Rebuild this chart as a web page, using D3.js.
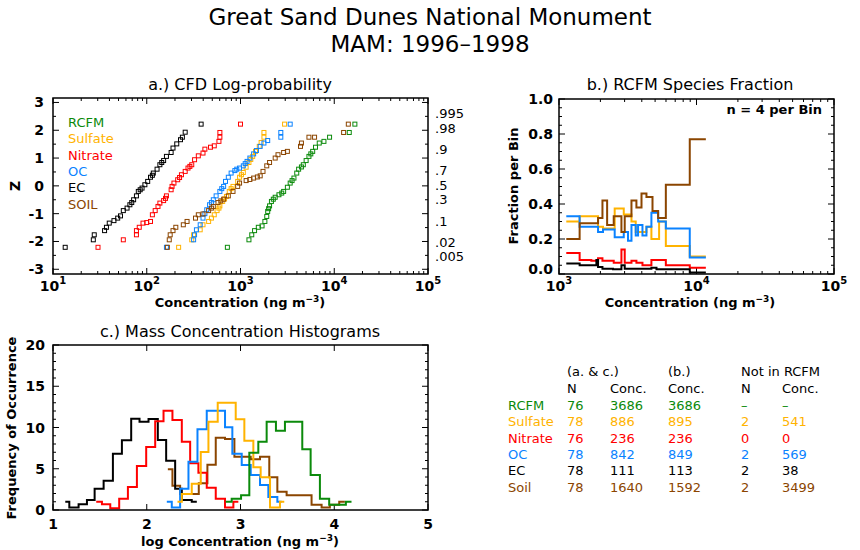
<!DOCTYPE html>
<html>
<head>
<meta charset="utf-8">
<script src="https://cdn.jsdelivr.net/npm/d3@7"></script>
<style>
  body { margin: 0; background: #fff; }
  text { font-family: "DejaVu Sans", sans-serif; }
</style>
</head>
<body>
<svg id="chart" width="860" height="550"></svg>
<script>
// species and colours
const species = ["RCFM", "Sulfate", "Nitrate", "OC", "EC", "SOIL"];
const colors = ["#0b8a0b", "#ffb300", "#ff0000", "#0a82ff", "#000000", "#8b4500"];

// a.) CFD: [log10 conc, Z]
const cfdRCFM = [[2.86,-2.21],[3.09,-1.94],[3.12,-1.76],[3.15,-1.61],[3.19,-1.49],[3.23,-1.44],[3.26,-1.28],[3.28,-1.1],[3.29,-0.92],[3.31,-0.72],[3.33,-0.56],[3.37,-0.41],[3.41,-0.32],[3.46,-0.2],[3.5,-0.05],[3.53,0.1],[3.57,0.28],[3.6,0.46],[3.62,0.6],[3.67,0.76],[3.7,0.91],[3.73,1.06],[3.77,1.24],[3.8,1.39],[3.84,1.54],[3.89,1.6],[3.95,1.75],[4.16,1.92],[4.22,2.22],[3.3,-0.82],[3.35,-0.48],[3.44,-0.26],[3.55,0.19],[3.65,0.68],[3.75,1.15]];
const cfdSulfate = [[2.34,-2.21],[2.48,-1.94],[2.5,-1.76],[2.57,-1.58],[2.6,-1.4],[2.66,-1.28],[2.69,-1.16],[2.72,-1.04],[2.75,-0.89],[2.78,-0.72],[2.81,-0.56],[2.85,-0.38],[2.88,-0.2],[2.92,-0.02],[2.97,0.16],[2.99,0.31],[3.03,0.48],[3.06,0.67],[3.09,0.84],[3.13,1.06],[3.16,1.24],[3.2,1.42],[3.22,1.56],[3.25,1.75],[3.25,1.92],[3.47,2.22],[2.77,-0.8],[2.83,-0.47],[2.9,-0.1],[3.01,0.4],[3.11,0.95]];
const cfdNitrate = [[1.48,-2.21],[1.75,-1.94],[1.89,-1.76],[1.89,-1.61],[1.92,-1.49],[1.96,-1.34],[2.0,-1.32],[2.04,-1.28],[2.06,-1.04],[2.09,-0.89],[2.12,-0.74],[2.14,-0.62],[2.18,-0.53],[2.21,-0.36],[2.26,-0.14],[2.27,-0.02],[2.29,0.1],[2.33,0.22],[2.37,0.4],[2.41,0.52],[2.44,0.64],[2.48,0.76],[2.51,0.94],[2.55,1.08],[2.6,1.18],[2.62,1.32],[2.68,1.39],[2.72,1.44],[2.77,1.6],[2.78,1.75],[2.78,1.92],[3.0,2.22],[2.2,-0.45],[2.35,0.3],[2.46,0.7]];
const cfdOC = [[2.21,-2.21],[2.5,-1.94],[2.51,-1.76],[2.53,-1.58],[2.57,-1.4],[2.6,-1.16],[2.64,-0.86],[2.67,-0.68],[2.71,-0.5],[2.74,-0.36],[2.78,-0.2],[2.82,-0.02],[2.84,0.16],[2.87,0.31],[2.9,0.46],[2.94,0.55],[2.99,0.64],[3.03,0.72],[3.07,0.88],[3.1,1.0],[3.14,1.15],[3.17,1.27],[3.21,1.42],[3.25,1.54],[3.29,1.63],[3.43,1.75],[3.43,1.92],[3.53,2.22],[2.62,-1.0],[2.69,-0.6],[2.8,-0.1],[2.96,0.6],[3.05,0.8]];
const cfdEC = [[1.13,-2.21],[1.43,-1.94],[1.44,-1.76],[1.55,-1.61],[1.57,-1.49],[1.6,-1.34],[1.65,-1.25],[1.69,-1.16],[1.72,-1.08],[1.75,-0.89],[1.79,-0.8],[1.82,-0.68],[1.86,-0.5],[1.89,-0.36],[1.91,-0.2],[1.95,-0.08],[1.98,0.04],[2.01,0.16],[2.04,0.31],[2.07,0.46],[2.11,0.6],[2.14,0.76],[2.18,0.91],[2.21,1.06],[2.26,1.2],[2.28,1.36],[2.32,1.51],[2.36,1.66],[2.38,1.75],[2.41,1.93],[2.58,2.22],[1.84,-0.6],[1.93,-0.14],[2.06,0.38],[2.16,0.84]];
const cfdSoil = [[2.22,-2.21],[2.24,-1.94],[2.25,-1.76],[2.28,-1.61],[2.31,-1.49],[2.39,-1.4],[2.43,-1.28],[2.52,-1.16],[2.55,-1.04],[2.6,-1.01],[2.66,-0.89],[2.71,-0.74],[2.76,-0.6],[2.82,-0.48],[2.87,-0.36],[2.92,-0.2],[2.97,-0.02],[2.99,0.1],[3.06,0.19],[3.14,0.28],[3.21,0.36],[3.24,0.52],[3.28,0.72],[3.31,0.84],[3.37,1.0],[3.4,1.12],[3.46,1.2],[3.5,1.24],[3.64,1.42],[3.65,1.54],[3.73,1.75],[3.79,1.75],[4.1,1.92],[4.15,2.22],[3.1,0.23],[3.18,0.32],[2.69,-0.8],[2.79,-0.54]];
const cfdAll = [cfdRCFM, cfdSulfate, cfdNitrate, cfdOC, cfdEC, cfdSoil];
const probTicks = [".995", ".98", ".9", ".7", ".5", ".3", ".1", ".02", ".005"];
const probZ = [2.576, 2.054, 1.282, 0.524, 0, -0.524, -1.282, -2.054, -2.576];

// b.) species fraction step lines: bin edges (log10 conc) and fractions
const fracEdges = {
  Sulfate: [3.053,3.15,3.284,3.32,3.405,3.471,3.527,3.558,3.636,3.672,3.728,3.777,3.951,4.068],
  OC: [3.053,3.15,3.284,3.32,3.405,3.471,3.502,3.527,3.558,3.575,3.607,3.636,3.672,3.721,3.777,3.951,4.068],
  Nitrate: [3.053,3.15,3.235,3.284,3.316,3.398,3.454,3.478,3.527,3.563,3.607,3.672,3.777,3.951,4.068],
  EC: [3.053,3.15,3.272,3.284,3.316,3.393,3.454,3.478,3.672,3.709,3.951,4.068],
  SOIL: [3.053,3.15,3.284,3.316,3.35,3.398,3.454,3.478,3.527,3.563,3.6,3.636,3.68,3.721,3.777,3.951,4.068]
};
const fracValues = {
  Sulfate: [0.30,0.33,0.27,0.26,0.375,0.34,0.30,0.24,0.27,0.20,0.30,0.16,0.10],
  OC: [0.33,0.27,0.24,0.255,0.21,0.24,0.19,0.28,0.22,0.28,0.22,0.27,0.35,0.30,0.26,0.095],
  Nitrate: [0.12,0.08,0.076,0.09,0.076,0.065,0.14,0.065,0.076,0.065,0.05,0.08,0.05,0.036],
  EC: [0.06,0.05,0.08,0.04,0.03,0.027,0.05,0.03,0.036,0.027,0.008],
  SOIL: [0.20,0.29,0.32,0.42,0.28,0.33,0.24,0.33,0.42,0.38,0.46,0.44,0.36,0.32,0.51,0.77]
};
const fracOrder = ["Sulfate", "OC", "Nitrate", "EC", "SOIL"];

// c.) histograms: bin edges (log10 conc) and frequencies
const histEdges = [
  [2.842,2.906,3.006,3.094,3.19,3.279,3.378,3.474,3.659,3.748,3.847,3.946,4.124,4.184],
  [2.328,2.374,2.48,2.576,2.658,2.757,2.842,2.949,3.041,3.137,3.215,3.315,3.421,3.467],
  [1.461,1.522,1.611,1.706,1.799,1.895,1.994,2.09,2.179,2.274,2.374,2.463,2.551,2.64,2.736,2.835,2.924,2.977],
  [2.214,2.267,2.356,2.445,2.541,2.64,2.835,2.913,3.013,3.109,3.208,3.297,3.393,3.439],
  [1.131,1.174,1.273,1.362,1.444,1.54,1.639,1.735,1.834,1.923,2.019,2.118,2.207,2.303,2.374,2.48,2.534],
  [2.225,2.274,2.356,2.452,2.555,2.647,2.736,2.835,2.935,3.013,3.109,3.208,3.307,3.393,3.492,3.758,3.865,3.953,4.053,4.113]
];
const histValues = [
  [1,1.37,1.78,6.95,8.28,10.7,9.62,10.7,7.35,4.24,1.37,0.65,1],
  [1,1.94,3.19,7.03,10.7,13,13,11,8.4,5.17,3.96,0.29,1],
  [1,0.69,0.2,1.37,2.79,5.33,7.64,10.75,12.04,10.91,8.28,5.66,4.53,2.71,1.37,0.29,1],
  [1,0.29,2.59,5.86,9.78,12.04,10.02,6.83,5.45,4.24,3.03,1.58,1],
  [1,0.29,0.69,1.21,2.59,3.56,6.83,8.44,11.07,10.71,11.03,8.48,5.98,2.59,1.21,1],
  [4.93,2.95,1.94,1.94,3.23,5.49,8.76,8.6,6.46,6.46,6.14,6.46,3.96,2.22,1.78,0.65,0.29,0.65,1]
];

// table
const tableNames = ["RCFM", "Sulfate", "Nitrate", "OC", "EC", "Soil"];
const tableN = ["76", "78", "76", "78", "78", "78"];
const tableConcAC = ["3686", "886", "236", "842", "111", "1640"];
const tableConcB = ["3686", "895", "236", "849", "113", "1592"];
const tableNotN = ["\u2013", "2", "0", "2", "2", "2"];
const tableNotConc = ["\u2013", "541", "0", "569", "38", "3499"];

const svg = d3.select("#chart");
const colorOf = d3.scaleOrdinal().domain(species).range(colors);

svg.append("text").attr("x", 430).attr("y", 25).attr("text-anchor", "middle")
  .attr("font-size", 23).text("Great Sand Dunes National Monument");
svg.append("text").attr("x", 430).attr("y", 52).attr("text-anchor", "middle")
  .attr("font-size", 23).text("MAM: 1996\u20131998");

function frame(x0, y0, x1, y1) {
  svg.append("rect").attr("x", x0).attr("y", y0).attr("width", x1 - x0).attr("height", y1 - y0)
    .attr("fill", "none").attr("stroke", "#000").attr("stroke-width", 1.5);
}
function powLabel(sel, e) {
  sel.text("10");
  sel.append("tspan").attr("dy", -7).attr("font-size", 10).text(e);
}
function logX(sel, x, yb, yt, d0, d1) {
  for (let e = d0; e <= d1; e++) {
    const g = sel.append("text").attr("x", x(Math.pow(10, e))).attr("y", yb + 17)
      .attr("text-anchor", "middle").attr("font-size", 14).attr("font-weight", "bold");
    powLabel(g, e);
    for (let k = 1; k < 10; k++) {
      const v = Math.pow(10, e) * k;
      if (e === d1 && k > 1) break;
      const len = k === 1 ? 6 : 3;
      sel.append("line").attr("x1", x(v)).attr("x2", x(v)).attr("y1", yb).attr("y2", yb - len).attr("stroke", "#000");
      sel.append("line").attr("x1", x(v)).attr("x2", x(v)).attr("y1", yt).attr("y2", yt + len).attr("stroke", "#000");
    }
  }
}

// ---------- panel a ----------
const ax = d3.scaleLog().domain([10, 1e5]).range([53, 428]);
const ay = d3.scaleLinear().domain([-3.17, 3.16]).range([274, 98]);
const ga = svg.append("g");
svg.append("text").attr("x", 240).attr("y", 90).attr("text-anchor", "middle").attr("font-size", 16)
  .text("a.) CFD Log-probability");
logX(ga, ax, 274, 98, 1, 5);
d3.range(-3, 3.01, 0.5).forEach(z => {
  const len = Number.isInteger(z) ? 6 : 3;
  ga.append("line").attr("x1", 53).attr("x2", 53 + len).attr("y1", ay(z)).attr("y2", ay(z)).attr("stroke", "#000");
  ga.append("line").attr("x1", 428).attr("x2", 428 - len).attr("y1", ay(z)).attr("y2", ay(z)).attr("stroke", "#000");
});
d3.range(-3, 4).forEach(z => {
  ga.append("text").attr("x", 44).attr("y", ay(z) + 5).attr("text-anchor", "end")
    .attr("font-size", 14).attr("font-weight", "bold").text(z);
});
probTicks.forEach((t, i) => {
  ga.append("text").attr("x", 435).attr("y", ay(probZ[i]) + 4).attr("font-size", 13).text(t);
});
ga.append("text").attr("transform", "translate(20,186) rotate(-90)").attr("text-anchor", "middle")
  .attr("font-size", 14).attr("font-weight", "bold").text("Z");
const xl1 = ga.append("text").attr("x", 240).attr("y", 307).attr("text-anchor", "middle")
  .attr("font-size", 13).attr("font-weight", "bold").text("Concentration (ng m");
xl1.append("tspan").attr("dy", -5).attr("font-size", 9).text("\u22123");
xl1.append("tspan").attr("dy", 5).text(")");
cfdAll.forEach((pts, si) => {
  ga.selectAll(null).data(pts).join("rect")
    .attr("x", d => ax(Math.pow(10, d[0])) - 2).attr("y", d => ay(d[1]) - 2)
    .attr("width", 4).attr("height", 4)
    .attr("fill", "none").attr("stroke", colors[si]).attr("stroke-width", 1);
});
species.forEach((s, i) => {
  ga.append("text").attr("x", 68).attr("y", 127 + i * 16.3).attr("font-size", 13)
    .attr("fill", colors[i]).text(s);
});
frame(53, 98, 428, 274);

// ---------- panel b ----------
const bx = d3.scaleLog().domain([1e3, 1e5]).range([559, 834]);
const by = d3.scaleLinear().domain([0, 1]).range([274, 99]);
const gb = svg.append("g");
svg.append("text").attr("x", 690).attr("y", 90).attr("text-anchor", "middle").attr("font-size", 16)
  .text("b.) RCFM Species Fraction");
logX(gb, bx, 274, 99, 3, 5);
d3.range(0, 1.001, 0.05).forEach(v => {
  const len = Math.abs(v * 5 - Math.round(v * 5)) < 1e-6 ? 6 : 3;
  gb.append("line").attr("x1", 559).attr("x2", 559 + len).attr("y1", by(v)).attr("y2", by(v)).attr("stroke", "#000");
  gb.append("line").attr("x1", 834).attr("x2", 834 - len).attr("y1", by(v)).attr("y2", by(v)).attr("stroke", "#000");
});
by.ticks(5).forEach(v => {
  gb.append("text").attr("x", 553).attr("y", Math.min(by(v) + 5, 274)).attr("text-anchor", "end")
    .attr("font-size", 14).attr("font-weight", "bold").text(d3.format(".1f")(v));
});
gb.append("text").attr("transform", "translate(518,186) rotate(-90)").attr("text-anchor", "middle")
  .attr("font-size", 13).attr("font-weight", "bold").text("Fraction per Bin");
const xl2 = gb.append("text").attr("x", 690).attr("y", 307).attr("text-anchor", "middle")
  .attr("font-size", 13).attr("font-weight", "bold").text("Concentration (ng m");
xl2.append("tspan").attr("dy", -5).attr("font-size", 9).text("\u22123");
xl2.append("tspan").attr("dy", 5).text(")");
gb.append("text").attr("x", 822).attr("y", 114).attr("text-anchor", "end").attr("font-size", 13)
  .attr("font-weight", "bold").text("n = 4 per Bin");
const stepB = d3.line().curve(d3.curveStepAfter).x(d => bx(Math.pow(10, d[0]))).y(d => by(d[1]));
fracOrder.forEach(s => {
  const e = fracEdges[s], v = fracValues[s];
  const pts = e.map((x, i) => [x, v[Math.min(i, v.length - 1)]]);
  gb.append("path").attr("d", stepB(pts)).attr("fill", "none")
    .attr("stroke", colorOf(s)).attr("stroke-width", 2);
});
frame(559, 99, 834, 274);

// ---------- panel c ----------
const cx = d3.scaleLinear().domain([1, 5]).range([53, 428]);
const cy = d3.scaleLinear().domain([0, 20]).range([510, 345]);
const gc = svg.append("g");
svg.append("text").attr("x", 240).attr("y", 337).attr("text-anchor", "middle").attr("font-size", 16)
  .text("c.) Mass Concentration Histograms");
d3.range(1, 5.01, 1).forEach(v => {
  gc.append("line").attr("x1", cx(v)).attr("x2", cx(v)).attr("y1", 510).attr("y2", 504).attr("stroke", "#000");
  gc.append("line").attr("x1", cx(v)).attr("x2", cx(v)).attr("y1", 345).attr("y2", 351).attr("stroke", "#000");
  gc.append("text").attr("x", cx(v)).attr("y", 529).attr("text-anchor", "middle")
    .attr("font-size", 14).attr("font-weight", "bold").text(v);
});
d3.range(0, 20.01, 1).forEach(v => {
  const len = v % 5 === 0 ? 6 : 3;
  gc.append("line").attr("x1", 53).attr("x2", 53 + len).attr("y1", cy(v)).attr("y2", cy(v)).attr("stroke", "#000");
  gc.append("line").attr("x1", 428).attr("x2", 428 - len).attr("y1", cy(v)).attr("y2", cy(v)).attr("stroke", "#000");
});
cy.ticks(4).forEach(v => {
  gc.append("text").attr("x", 45).attr("y", cy(v) + 5).attr("text-anchor", "end")
    .attr("font-size", 14).attr("font-weight", "bold").text(v);
});
gc.append("text").attr("transform", "translate(16,428) rotate(-90)").attr("text-anchor", "middle")
  .attr("font-size", 13).attr("font-weight", "bold").text("Frequency of Occurrence");
const xl3 = gc.append("text").attr("x", 240).attr("y", 546).attr("text-anchor", "middle")
  .attr("font-size", 13).attr("font-weight", "bold").text("log Concentration (ng m");
xl3.append("tspan").attr("dy", -5).attr("font-size", 9).text("\u22123");
xl3.append("tspan").attr("dy", 5).text(")");
const stepC = d3.line().curve(d3.curveStepAfter).x(d => cx(d[0])).y(d => cy(d[1]));
[5, 4, 2, 3, 1, 0].forEach(si => {
  const e = histEdges[si], v = histValues[si];
  const pts = e.map((x, i) => [x, v[Math.min(i, v.length - 1)]]);
  gc.append("path").attr("d", stepC(pts)).attr("fill", "none")
    .attr("stroke", colors[si]).attr("stroke-width", 2);
});
frame(53, 345, 428, 510);

// ---------- table ----------
const gt = svg.append("g").attr("font-size", 13);
const cols = [567, 610, 668, 741, 782];
gt.append("text").attr("x", cols[0]).attr("y", 376).text("(a. & c.)");
gt.append("text").attr("x", cols[2]).attr("y", 376).text("(b.)");
gt.append("text").attr("x", cols[3]).attr("y", 376).text("Not in RCFM");
["N", "Conc.", "Conc.", "N", "Conc."].forEach((t, i) =>
  gt.append("text").attr("x", cols[i]).attr("y", 393).text(t));
tableNames.forEach((n, r) => {
  const y = 410 + r * 16.3;
  const row = [tableN[r], tableConcAC[r], tableConcB[r], tableNotN[r], tableNotConc[r]];
  gt.append("text").attr("x", 508).attr("y", y).attr("fill", colors[r]).text(n);
  row.forEach((t, i) => gt.append("text").attr("x", cols[i]).attr("y", y).attr("fill", colors[r]).text(t));
});
</script>
</body>
</html>
